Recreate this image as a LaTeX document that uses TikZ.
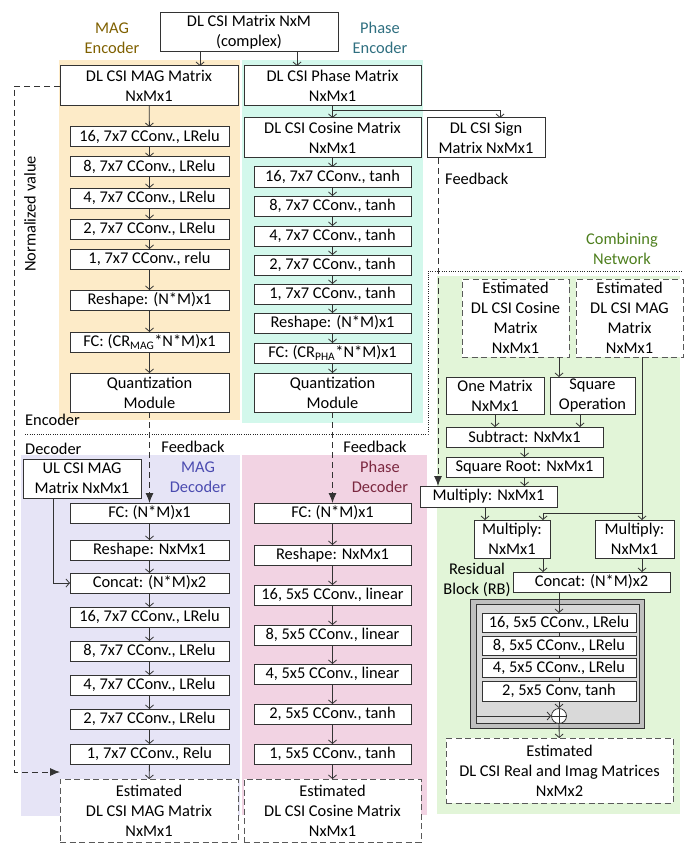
\documentclass[tikz,border=0pt]{standalone}
\usepackage{fontspec}
\setmainfont{Carlito}
\usetikzlibrary{arrows.meta}
\definecolor{bgMagEnc}{HTML}{FDEBC8}
\definecolor{bgPhEnc}{HTML}{D3F8EC}
\definecolor{bgMagDec}{HTML}{E6E4F6}
\definecolor{bgPhDec}{HTML}{F2D3E3}
\definecolor{bgComb}{HTML}{E2F5D8}
\definecolor{tMagEnc}{HTML}{7F6000}
\definecolor{tPhEnc}{HTML}{2F6F80}
\definecolor{tMagDec}{HTML}{4B4BB0}
\definecolor{tPhDec}{HTML}{7B2840}
\definecolor{tComb}{HTML}{4E7F1E}
\definecolor{rbOuter}{HTML}{BFBFBF}
\definecolor{rbInner}{HTML}{D9D9D9}
\newcommand\nbox[7][]{\node[box,#1,minimum width={(#5-#3)*1pt},minimum height={(#6-#4)*1pt}] (#2) at ({(#3+#5)/2},{(#4+#6)/2}) {#7};}
\tikzset{
  box/.style={draw=black!80, line width=1pt, fill=white, align=center, inner sep=0pt, outer sep=0pt},
  dbox/.style={draw=black!65, line width=1pt, dash pattern=on 6pt off 3.5pt},
  arr/.style={draw=black!80, line width=0.8pt, -{Straight Barb[length=3.5pt,width=8pt]}},
  ln/.style={draw=black!80, line width=0.8pt},
  darr/.style={draw=black!80, line width=0.9pt, dash pattern=on 6pt off 4pt, -{Latex[length=10pt,width=8pt]}},
  sepline/.style={draw=black!85, line width=0.9pt, dash pattern=on 1pt off 1.3pt},
  lbl/.style={align=center, inner sep=0pt},
}
\begin{document}
\begin{tikzpicture}[x=1pt,y=-1pt,font=\fontsize{16.4}{20}\selectfont]
\useasboundingbox (0,0) rectangle (694,853);
% backgrounds
\fill[bgMagEnc] (59,60) rectangle (240,420);
\fill[bgPhEnc] (242,60) rectangle (423,423);
\fill[bgMagDec] (21,455) rectangle (240,816);
\fill[bgPhDec] (242,455) rectangle (427,815);
\fill[bgComb] (437,276) rectangle (680,814);
% encoder/decoder separator
\draw[sepline] (25,434) -- (428,434) -- (428,271) -- (683,271);
% labels
\node[lbl,text=tMagEnc] (lMagEnc) at (112,38) {MAG\\Encoder};
\node[lbl,text=tPhEnc] (lPhEnc) at (380,38) {Phase\\Encoder};
\node[lbl,text=tMagDec] (lMagDec) at (198,477) {MAG\\Decoder};
\node[lbl,text=tPhDec] (lPhDec) at (380,477) {Phase\\Decoder};
\node[lbl,text=tComb] (lComb) at (622,249) {Combining\\Network};
\node[lbl,anchor=west] (lEnc) at (25,420) {Encoder};
\node[lbl,anchor=west] (lDec) at (25,449) {Decoder};
\node[lbl] (lRB) at (477,580) {Residual\\Block (RB)};
\node[lbl,rotate=90] (lNorm) at (30,214) {Normalized value};
\node[lbl,anchor=west] (lFb0) at (445,179) {Feedback};
\node[lbl] (lFb1) at (193,447) {Feedback};
\node[lbl] (lFb2) at (375,447) {Feedback};
% top
\nbox{top}{160}{13}{338}{52}{DL CSI Matrix NxM\\(complex)}
\nbox{magm}{60}{66}{238}{106}{DL CSI MAG Matrix\\NxMx1}
\nbox{phm}{244}{66}{421}{106}{DL CSI Phase Matrix\\NxMx1}
% MAG encoder
\nbox{e1}{70}{127}{229}{147}{16, 7x7 CConv., LRelu}
\nbox{e2}{70}{157}{229}{177}{8, 7x7 CConv., LRelu}
\nbox{e3}{70}{188}{229}{208}{4, 7x7 CConv., LRelu}
\nbox{e4}{70}{219}{229}{239}{2, 7x7 CConv., LRelu}
\nbox{e5}{70}{249}{229}{269}{1, 7x7 CConv., relu}
\nbox{e6}{70}{290}{229}{310}{Reshape: (N*M)x1}
\nbox{e7}{70}{332}{229}{352}{FC: (CR\textsubscript{MAG}*N*M)x1}
\nbox{e8}{70}{373}{229}{412}{Quantization\\Module}
% Phase encoder
\nbox{pcos}{244}{118}{421}{158}{DL CSI Cosine Matrix\\NxMx1}
\nbox{sign}{427}{118}{545}{158}{DL CSI Sign\\Matrix NxMx1}
\nbox{p1}{254}{167}{411}{187}{16, 7x7 CConv., tanh}
\nbox{p2}{254}{196}{411}{216}{8, 7x7 CConv., tanh}
\nbox{p3}{254}{226}{411}{246}{4, 7x7 CConv., tanh}
\nbox{p4}{254}{255}{411}{275}{2, 7x7 CConv., tanh}
\nbox{p5}{254}{284}{411}{304}{1, 7x7 CConv., tanh}
\nbox{p6}{254}{313}{411}{333}{Reshape: (N*M)x1}
\nbox{p7}{254}{343}{411}{363}{FC: (CR\textsubscript{PHA}*N*M)x1}
\nbox{p8}{254}{373}{411}{412}{Quantization\\Module}
% MAG decoder
\nbox{ul}{23}{459}{141}{498}{UL CSI MAG\\Matrix NxMx1}
\nbox{d1}{70}{503}{229}{523}{FC: (N*M)x1}
\nbox{d2}{70}{540}{229}{560}{Reshape: NxMx1}
\nbox{d3}{70}{573}{229}{593}{Concat: (N*M)x2}
\nbox{d4}{70}{607}{229}{627}{16, 7x7 CConv., LRelu}
\nbox{d5}{70}{641}{229}{661}{8, 7x7 CConv., LRelu}
\nbox{d6}{70}{675}{229}{695}{4, 7x7 CConv., LRelu}
\nbox{d7}{70}{709}{229}{729}{2, 7x7 CConv., LRelu}
\nbox{d8}{70}{744}{229}{764}{1, 7x7 CConv., Relu}
\nbox[dbox]{dm}{60}{779}{238}{842}{Estimated\\DL CSI MAG Matrix\\NxMx1}
% Phase decoder
\nbox{q1}{254}{503}{411}{523}{FC: (N*M)x1}
\nbox{q2}{254}{545}{411}{565}{Reshape: NxMx1}
\nbox{q3}{254}{585}{411}{605}{16, 5x5 CConv., linear}
\nbox{q4}{254}{625}{411}{645}{8, 5x5 CConv., linear}
\nbox{q5}{254}{664}{411}{684}{4, 5x5 CConv., linear}
\nbox{q6}{254}{704}{411}{724}{2, 5x5 CConv., tanh}
\nbox{q7}{254}{744}{411}{764}{1, 5x5 CConv., tanh}
\nbox[dbox]{dc}{244}{779}{421}{842}{Estimated\\DL CSI Cosine Matrix\\NxMx1}
% Combining network
\nbox[dbox]{ec}{462}{279}{569}{357}{Estimated\\DL CSI Cosine\\Matrix\\NxMx1}
\nbox[dbox]{em}{576}{279}{683}{357}{Estimated\\DL CSI MAG\\Matrix\\NxMx1}
\nbox{one}{446}{377}{544}{414}{One Matrix\\NxMx1}
\nbox{sq}{550}{377}{635}{414}{Square\\Operation}
\nbox{sub}{446}{427}{603}{447}{Subtract: NxMx1}
\nbox{sqr}{446}{457}{603}{477}{Square Root: NxMx1}
\nbox{mul}{420}{486}{557}{507}{Multiply: NxMx1}
\nbox{mulL}{474}{520}{550}{558}{Multiply:\\NxMx1}
\nbox{mulR}{595}{520}{674}{558}{Multiply:\\NxMx1}
\nbox{cat}{513}{572}{670}{592}{Concat: (N*M)x2}
\nbox[fill=rbOuter]{rbo}{470}{599}{644}{728}{}
\nbox[fill=rbInner]{rbi}{476}{604}{639}{723}{}
\nbox{r1}{482}{613}{636}{632}{16, 5x5 CConv., LRelu}
\nbox{r2}{482}{636}{636}{655}{8, 5x5 CConv., LRelu}
\nbox{r3}{482}{658}{636}{677}{4, 5x5 CConv., LRelu}
\nbox{r4}{482}{681}{636}{701}{2, 5x5 Conv, tanh}
\node[draw=black!80,line width=0.8pt,fill=white,circle,minimum size=15pt,inner sep=0pt,
  path picture={\draw[black!80,line width=0.8pt] (path picture bounding box.north) -- (path picture bounding box.south)
  (path picture bounding box.west) -- (path picture bounding box.east);}] (plus) at (559,716) {};
\nbox[dbox]{ri}{446}{738}{673}{803}{Estimated\\DL CSI Real and Imag Matrices\\NxMx2}
% connectors top
\draw[arr] ([xshift=-49pt]top.south) -- ([xshift=-49pt]top.south |- magm.north);
\draw[arr] ([xshift=48pt]top.south) -- ([xshift=48pt]top.south |- phm.north);
\draw[arr] (phm) -- (pcos);
\draw[arr] (phm.south) ++(0,4) -| ([xshift=14pt]sign.north);
% chains
\foreach \a/\b in {magm/e1,e1/e2,e2/e3,e3/e4,e4/e5,e5/e6,e6/e7,e7/e8,
  pcos/p1,p1/p2,p2/p3,p3/p4,p4/p5,p5/p6,p6/p7,p7/p8,
  d1/d2,d2/d3,d3/d4,d4/d5,d5/d6,d6/d7,d7/d8,d8/dm,
  q1/q2,q2/q3,q3/q4,q4/q5,q5/q6,q6/q7,q7/dc}
  \draw[arr] (\a) -- (\b);
% feedback
\draw[darr] (e8.south) -- (e8.south |- d1.north);
\draw[darr] (p8.south) -- (p8.south |- q1.north);
\draw[darr] ([xshift=-48pt]sign.south) -- ([xshift=-48pt]sign.south |- mul.north);
% normalized value
\coordinate (nv) at (14,772);
\draw[darr] (magm.west) -- (magm.west -| nv) -- (nv) -- ([yshift=7pt]dm.north west);
% UL to concat
\draw[arr] ([xshift=-29pt]ul.south) |- (d3.west);
% combining
\draw[arr] ([xshift=43.5pt]ec.south) -- ([xshift=43.5pt]ec.south |- sq.north);
\draw[arr] (one.south) -- (one.south |- sub.north);
\draw[arr] ([xshift=-12.5pt]sq.south) -- ([xshift=-12.5pt]sq.south |- sub.north);
\draw[arr] (sub) -- (sub.south |- sqr.north);
\draw[arr] (sqr.south) -- (sqr.south |- mul.north);
\draw[arr] ([xshift=12.5pt]em.south) -- ([xshift=12.5pt]em.south |- mulR.north);
\coordinate (bj) at ([xshift=12.5pt]em.south |- mulL.north);
\draw[arr] ([yshift=7pt]bj) -| ([xshift=31pt]mulL.north);
\draw[arr] ([xshift=-3.5pt]mul.south) -- ([xshift=-3.5pt]mul.south |- mulL.north);
\draw[arr] ([xshift=31pt]mulL.south) -- ([xshift=31pt]mulL.south |- cat.north);
\draw[arr] ([xshift=7.5pt]mulR.south) -- ([xshift=7.5pt]mulR.south |- cat.north);
\draw[arr] (r1.north |- cat.south) -- (r1.north);
\draw[ln] (r1) -- (r2);
\draw[ln] (r2) -- (r3);
\draw[ln] (r3) -- (r4);
\draw[arr] (r4) -- (plus);
\draw[arr] (rbi.west |- plus) -- (plus);
\draw[arr] (plus) -- (ri);
\end{tikzpicture}
\end{document}
